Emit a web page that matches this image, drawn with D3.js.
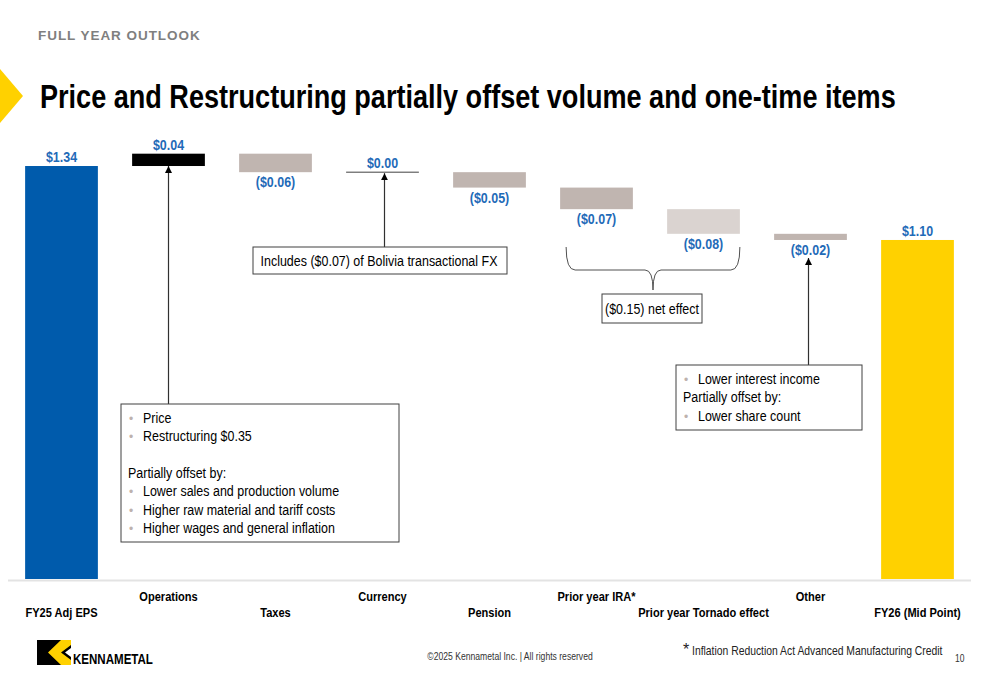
<!DOCTYPE html>
<html>
<head>
<meta charset="utf-8">
<script src="https://cdn.jsdelivr.net/npm/d3@7"></script>
<style>
  html, body { margin: 0; padding: 0; background: #fff; }
  svg { display: block; }
  text { font-family: "Liberation Sans", Arial, sans-serif; }
</style>
</head>
<body>
<svg id="chart" width="1000" height="685"></svg>
<script>
// ---- data ----
const categories = ["FY25 Adj EPS", "Operations", "Taxes", "Currency", "Pension",
  "Prior year IRA*", "Prior year Tornado effect", "Other", "FY26 (Mid Point)"];
const changes = [1.34, 0.04, -0.06, 0.00, -0.05, -0.07, -0.08, -0.02, 1.10];
const kinds = ["total", "delta", "delta", "delta", "delta", "delta", "delta", "delta", "total"];
const valueLabels = ["$1.34", "$0.04", "($0.06)", "$0.00", "($0.05)", "($0.07)", "($0.08)", "($0.02)", "$1.10"];
const barColors = ["#005BAC", "#000000", "#C0B5B0", "#000000", "#C0B5B0", "#C0B5B0", "#DAD3D0", "#C0B5B0", "#FFD100"];

const svg = d3.select("#chart");
const blue = "#1F6BB8";

// narrow-font emulation: horizontal scale about the anchor point
function condense(sel, f) {
  sel.each(function () {
    const s = d3.select(this);
    const x0 = +s.attr("x"), y0 = +s.attr("y");
    s.attr("x", 0).attr("y", 0).attr("transform", `translate(${x0},${y0}) scale(${f},1)`);
  });
  return sel;
}
function fitWidth(sel, w) {
  sel.each(function () {
    const nat = this.getComputedTextLength();
    condense(d3.select(this), w / nat);
  });
  return sel;
}

// compute waterfall start/end
let running = 0;
const bars = categories.map((c, i) => {
  let start, end;
  if (kinds[i] === "total") { start = 0; end = changes[i]; running = changes[i]; }
  else { start = running; end = running + changes[i]; running = end; }
  return { cat: c, i, start, end, v: changes[i], label: valueLabels[i], color: barColors[i] };
});

const x = d3.scaleBand().domain(categories).range([8, 971]).paddingInner(0.32).paddingOuter(0.16);
const y = d3.scaleLinear().domain([0, 1.5]).range([579, 579 - 1.5 * 308.2]);
const bw = x.bandwidth();

// header
svg.append("text").attr("x", 38).attr("y", 40).text("FULL YEAR OUTLOOK")
  .attr("font-size", 13.5).attr("font-weight", "bold").attr("fill", "#7F7F7F")
  .attr("letter-spacing", 0.95);
svg.append("path").attr("d", "M0,69 L23,96 L0,123 Z").attr("fill", "#FFD100");
fitWidth(svg.append("text").attr("x", 40).attr("y", 108).text("Price and Restructuring partially offset volume and one-time items")
  .attr("font-size", 33).attr("font-weight", "bold").attr("fill", "#000"), 856);

// baseline
svg.append("line").attr("x1", 8).attr("x2", 971).attr("y1", y(0) + 1.5).attr("y2", y(0) + 1.5)
  .attr("stroke", "#E3E3E3").attr("stroke-width", 2);

// bars
const g = svg.append("g");
bars.forEach(b => {
  const top = y(Math.max(b.start, b.end)), bot = y(Math.min(b.start, b.end));
  const x0 = x(b.cat);
  if (b.v === 0) {
    g.append("line").attr("x1", x0).attr("x2", x0 + bw).attr("y1", top).attr("y2", top)
      .attr("stroke", "#404040").attr("stroke-width", 1);
  } else {
    g.append("rect").attr("x", x0).attr("y", top).attr("width", bw).attr("height", bot - top)
      .attr("fill", b.color);
  }
  const positive = kinds[b.i] === "total" || b.v >= 0;
  const t = g.append("text").attr("x", x0 + bw / 2)
    .attr("y", positive ? top - 4 : bot + 15)
    .attr("text-anchor", "middle").attr("font-size", 14.5).attr("font-weight", "bold")
    .attr("fill", blue).text(b.label);
  condense(t, 0.86);
});

// category labels (alternating rows)
categories.forEach((c, i) => {
  const t = svg.append("text").attr("x", x(c) + bw / 2).attr("y", i % 2 === 1 ? 601 : 617)
    .attr("text-anchor", "middle").attr("font-size", 13.5).attr("font-weight", "bold")
    .attr("fill", "#000").text(c);
  condense(t, 0.82);
});

// arrow marker
svg.append("defs").append("marker").attr("id", "ah").attr("viewBox", "0 0 10 10")
  .attr("refX", 10).attr("refY", 5).attr("markerWidth", 7).attr("markerHeight", 7)
  .attr("markerUnits", "userSpaceOnUse").attr("orient", "auto")
  .append("path").attr("d", "M0,0 L10,5 L0,10 Z").attr("fill", "#000");

function arrow(cx, y1, y2) {
  svg.append("line").attr("x1", cx).attr("x2", cx).attr("y1", y1).attr("y2", y2)
    .attr("stroke", "#303030").attr("stroke-width", 1.2).attr("marker-end", "url(#ah)");
}
function box(x0, y0, w, h) {
  svg.append("rect").attr("x", x0).attr("y", y0).attr("width", w).attr("height", h)
    .attr("fill", "#fff").attr("stroke", "#404040").attr("stroke-width", 1);
}
function lines(x0, y0, dy, items) {
  items.forEach((it, k) => {
    if (it === null) return;
    const yy = y0 + k * dy;
    if (it.b) {
      svg.append("text").attr("x", x0 + 1).attr("y", yy).attr("font-size", 12).attr("fill", "#BDB2AD").text("•");
      condense(svg.append("text").attr("x", x0 + 15).attr("y", yy).attr("font-size", 14.5).attr("fill", "#000").text(it.t), 0.86);
    } else {
      condense(svg.append("text").attr("x", x0).attr("y", yy).attr("font-size", 14.5).attr("fill", "#000").text(it.t), 0.86);
    }
  });
}

// Operations annotation
const opsC = x("Operations") + bw / 2;
arrow(opsC, 404, y(bars[0].end));
box(121, 404, 278, 138);
lines(128, 423, 18.3, [
  { b: true, t: "Price" }, { b: true, t: "Restructuring $0.35" }, null,
  { t: "Partially offset by:" }, { b: true, t: "Lower sales and production volume" },
  { b: true, t: "Higher raw material and tariff costs" }, { b: true, t: "Higher wages and general inflation" }
]);

// Currency annotation
const curC = x("Currency") + bw / 2 + 2;
arrow(curC, 247, y(bars[3].end) + 1);
box(253, 247, 254, 27);
condense(svg.append("text").attr("x", 379).attr("y", 266).attr("text-anchor", "middle").attr("font-size", 14.5)
  .text("Includes ($0.07) of Bolivia transactional FX"), 0.86);

// Brace for IRA + Tornado
const bL = x("Prior year IRA*") + 6, bR = x("Prior year Tornado effect") + bw, bM = (bL + bR) / 2;
svg.append("path").attr("fill", "none").attr("stroke", "#505050").attr("stroke-width", 1)
  .attr("d", `M${bL},247 Q${bL},270 ${bL + 9},270 L${bM - 8},270 Q${bM},270 ${bM},290 Q${bM},270 ${bM + 8},270 L${bR - 9},270 Q${bR},270 ${bR},247`);
box(602, 294, 100, 29);
condense(svg.append("text").attr("x", 652).attr("y", 314).attr("text-anchor", "middle").attr("font-size", 14.5)
  .text("($0.15) net effect"), 0.86);

// Other annotation
const othC = x("Other") + bw / 2 - 2;
arrow(othC, 365, y(bars[7].end) + 18);
box(676, 365, 186, 65);
lines(683, 384, 18.3, [
  { b: true, t: "Lower interest income" }, { t: "Partially offset by:" }, { b: true, t: "Lower share count" }
]);

// footer logo
const logo = svg.append("g");
logo.append("rect").attr("x", 37).attr("y", 640).attr("width", 34).attr("height", 25).attr("fill", "#000");
logo.append("path").attr("d", "M61,640 L71,640 L71,645 L61,652.5 L71,660 L71,665 L61,665 L48,652.5 Z").attr("fill", "#FFD100");
logo.append("path").attr("d", "M71,648 L65,652.5 L71,657 Z").attr("fill", "#fff");
condense(logo.append("text").attr("x", 73).attr("y", 664).attr("font-size", 15).attr("font-weight", "bold")
  .attr("fill", "#000").text("KENNAMETAL"), 0.77);

condense(svg.append("text").attr("x", 510).attr("y", 660).attr("text-anchor", "middle").attr("font-size", 10.5)
  .attr("fill", "#333").text("©2025 Kennametal Inc.  |  All rights reserved"), 0.82);
svg.append("text").attr("x", 683).attr("y", 655).attr("font-size", 16).attr("fill", "#222").text("*");
condense(svg.append("text").attr("x", 692).attr("y", 655).attr("font-size", 12.5).attr("fill", "#222")
  .text("Inflation Reduction Act Advanced Manufacturing Credit"), 0.83);
condense(svg.append("text").attr("x", 955).attr("y", 662).attr("font-size", 10).attr("fill", "#333").text("10"), 0.85);
</script>
</body>
</html>
